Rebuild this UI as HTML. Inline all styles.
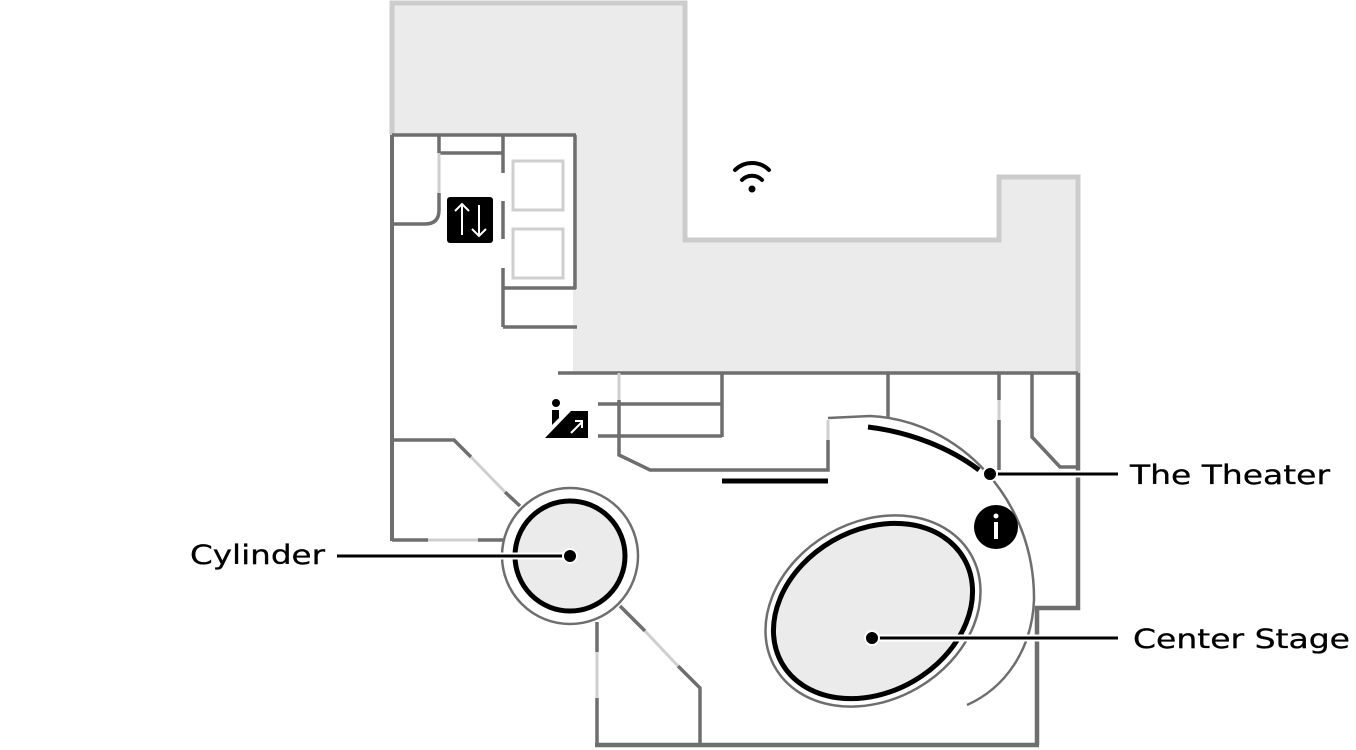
<!DOCTYPE html>
<html><head><meta charset="utf-8"><style>
html,body{margin:0;padding:0;background:#fff;}
svg{display:block;}
text{font-family:"DejaVu Sans","Liberation Sans",sans-serif;font-size:27px;fill:#000;stroke:#000;stroke-width:0.3px;}
</style></head><body>
<svg width="1356" height="750" viewBox="0 0 1356 750" xmlns="http://www.w3.org/2000/svg">
<polygon points="392,3 685,3 685,240 999,240 999,177 1078,177 1078,373 573,373 573,135 392,135" fill="#ebebeb"/>
<polyline points="392,135 392,3 685,3 685,240 999,240 999,177 1078,177 1078,373" fill="none" stroke="#cccccc" stroke-width="5"/>

<g fill="none" stroke="#6e6e6e" stroke-width="3.5">
<line x1="392" y1="135" x2="392" y2="541" stroke-width="4"/>
<line x1="392" y1="135" x2="576" y2="135"/>
<line x1="575" y1="135" x2="575" y2="289"/>
<line x1="503" y1="288" x2="576" y2="288"/>
<line x1="503" y1="135" x2="503" y2="173"/>
<line x1="503" y1="201" x2="503" y2="239"/>
<line x1="503" y1="268" x2="503" y2="327"/>
<line x1="503" y1="327" x2="577" y2="327"/>
<line x1="439" y1="135" x2="439" y2="153"/>
<line x1="439" y1="153" x2="503" y2="153"/>
<path d="M439,193 L439,210 Q439,224 425,224 L392,224"/>
<line x1="392" y1="540" x2="428" y2="540"/>
<line x1="478" y1="540" x2="505" y2="540"/>
<polyline points="392,440 454,440 471,457"/>
<line x1="505" y1="492" x2="520" y2="506"/>
<line x1="597" y1="622" x2="597" y2="652"/>
<line x1="597" y1="698" x2="597" y2="747"/>
<line x1="620" y1="606" x2="645" y2="631"/>
<polyline points="678,666 700,688 700,745"/>
<line x1="595" y1="745" x2="1039" y2="745" stroke-width="4.5"/>
<polyline points="1037,745 1037,608 1078,608 1078,373" stroke-width="4.5"/>
<line x1="558" y1="373" x2="1078" y2="373"/>
<polyline points="619,400 619,455 650,470 828,470 828,440"/>
<line x1="598" y1="404" x2="722" y2="404"/>
<line x1="598" y1="436" x2="722" y2="436"/>
<line x1="722" y1="373" x2="722" y2="437"/>
<line x1="888" y1="373" x2="888" y2="418"/>
<line x1="999" y1="373" x2="999" y2="400"/>
<line x1="999" y1="420" x2="999" y2="470"/>
<polyline points="1032,373 1032,437 1060,467 1078,467"/>
</g>
<g fill="none" stroke="#cfcfcf" stroke-width="3">
<line x1="439" y1="153" x2="439" y2="193"/>
<line x1="428" y1="540" x2="478" y2="540"/>
<line x1="471" y1="457" x2="505" y2="492"/>
<line x1="597" y1="652" x2="597" y2="698"/>
<line x1="645" y1="631" x2="678" y2="666"/>
<line x1="619" y1="373" x2="619" y2="400"/>
<line x1="828" y1="420" x2="828" y2="440"/>
<line x1="999" y1="400" x2="999" y2="420"/>
<rect x="513" y="161" width="50" height="49"/>
<rect x="513" y="229" width="50" height="49"/>
</g>
<rect x="447" y="197" width="46" height="46" rx="3" fill="#000"/>
<g stroke="#fff" stroke-width="2" fill="none">
<line x1="462" y1="204" x2="462" y2="235"/><polyline points="455,211 462,204 469,211"/>
<line x1="479" y1="205" x2="479" y2="236"/><polyline points="472,229 479,236 486,229"/>
</g>
<circle cx="556" cy="403" r="4" fill="#000"/>
<path d="M552,410 L559,410 L559,418 L552,425 Z" fill="#000"/>
<path d="M545,438 L571,411 L588,411 L588,438 Z" fill="#000"/>
<g stroke="#fff" stroke-width="2" fill="none"><line x1="571" y1="433" x2="582" y2="422"/><polyline points="575,421 582,421 582,428"/></g>
<g fill="none" stroke="#000" stroke-width="4" stroke-linecap="round">
<path d="M735,170 A24,24 0 0 1 769,170"/>
<path d="M742,180 A14,14 0 0 1 762,180"/>
</g>
<circle cx="752" cy="189" r="3.5" fill="#000"/>
<path d="M828,418 L870,416 C960,420 1035,500 1034,600 C1032,650 1005,688 967,705" fill="none" stroke="#6e6e6e" stroke-width="2.5"/>
<path d="M868,427 C910,432 950,448 979,470" fill="none" stroke="#000" stroke-width="5"/>
<line x1="722" y1="481" x2="828" y2="481" stroke="#000" stroke-width="5"/>
<circle cx="996" cy="527" r="22" fill="#000"/>
<circle cx="996" cy="516" r="2.5" fill="#fff"/>
<line x1="996" y1="522" x2="996" y2="539" stroke="#fff" stroke-width="4"/>
<ellipse cx="873" cy="611" rx="113" ry="89" transform="rotate(-30 873 611)" fill="#fff" stroke="#6e6e6e" stroke-width="2.5"/>
<ellipse cx="873" cy="611" rx="105" ry="81" transform="rotate(-30 873 611)" fill="#ebebeb" stroke="#000" stroke-width="5"/>
<circle cx="570" cy="556" r="68" fill="#fff" stroke="#6e6e6e" stroke-width="2.5"/>
<circle cx="570" cy="556" r="55" fill="#ebebeb" stroke="#000" stroke-width="5"/>
<g stroke="#fff" stroke-width="7"><line x1="337" y1="556" x2="570" y2="556"/><line x1="990" y1="474" x2="1118" y2="474"/><line x1="872" y1="638" x2="1118" y2="638"/></g>
<g stroke="#000" stroke-width="3"><line x1="337" y1="556" x2="570" y2="556"/><line x1="990" y1="474" x2="1118" y2="474"/><line x1="872" y1="638" x2="1118" y2="638"/></g>
<g fill="#000" stroke="#fff" stroke-width="2"><circle cx="570" cy="556" r="7"/><circle cx="990" cy="474" r="7"/><circle cx="872" cy="638" r="7"/></g>
<text x="190" y="564" textLength="135" lengthAdjust="spacingAndGlyphs">Cylinder</text>
<text x="1130" y="484" textLength="200" lengthAdjust="spacingAndGlyphs">The Theater</text>
<text x="1133" y="648" textLength="217" lengthAdjust="spacingAndGlyphs">Center Stage</text>
</svg>
</body></html>
